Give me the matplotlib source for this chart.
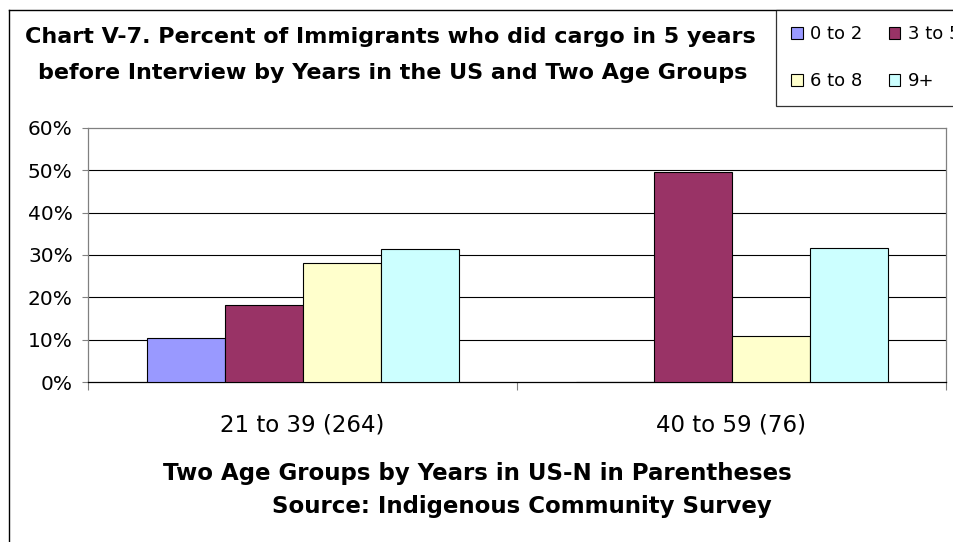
import matplotlib
matplotlib.use("Agg")
import matplotlib.pyplot as plt
from matplotlib.lines import Line2D
from matplotlib.ticker import PercentFormatter, FixedLocator
import matplotlib.transforms as mtransforms
import numpy as np

categories = ["21 to 39 (264)", "40 to 59 (76)"]
series_names = ["0 to 2", "3 to 5", "6 to 8", "9+"]
s_0_2 = [0.105, 0.0]
s_3_5 = [0.181, 0.497]
s_6_8 = [0.282, 0.109]
s_9p = [0.313, 0.316]
series_values = [s_0_2, s_3_5, s_6_8, s_9p]
colors = ["#9999FF", "#993366", "#FFFFCC", "#CCFFFF"]

title1 = "Chart V-7. Percent of Immigrants who did cargo in 5 years"
title2 = "before Interview by Years in the US and Two Age Groups"
xlabel1 = "Two Age Groups by Years in US-N in Parentheses"
xlabel2 = "Source: Indigenous Community Survey"

plt.rcParams['font.family'] = ['DejaVu Sans']

W, H = 954, 542
fig = plt.figure(figsize=(W / 100, H / 100), dpi=100)
fig.patch.set_facecolor("white")

left, right, bottom, top = 88, 946, 382, 128
ax = fig.add_axes([left / W, 1 - bottom / H, (right - left) / W, (bottom - top) / H])

n = len(series_names)
bw = 1 / (n + 1.5)
x = np.arange(len(categories))
for i, (name, vals, c) in enumerate(zip(series_names, series_values, colors)):
    ax.bar(x + (i - (n - 1) / 2) * bw, vals, width=bw, color=c, edgecolor="black",
           linewidth=0.8, label=name, zorder=3)

ax.set_xlim(-0.5, len(categories) - 0.5)
ax.set_ylim(0, 0.6)
ax.yaxis.set_major_locator(FixedLocator(np.arange(0, 0.61, 0.1)))
ax.yaxis.set_major_formatter(PercentFormatter(1.0, decimals=0))
ax.tick_params(axis="y", labelsize=14.5, length=4.5, width=0.8, color="#808080", pad=6.5)

ax.set_xticks(np.arange(-0.5, len(categories), 1.0))
ax.set_xticklabels([])
ax.tick_params(axis="x", which="major", length=6, width=0.8, color="#808080")

cat_tr = mtransforms.blended_transform_factory(ax.transData, fig.transFigure)
for xi, lab in zip(x, categories):
    ax.text(xi, 1 - 432 / H, lab, transform=cat_tr, ha="center", va="baseline",
            fontsize=16.5)

for yv in np.arange(0.1, 0.51, 0.1):
    ax.axhline(yv, color="black", linewidth=0.8, zorder=1)

for s in ["top", "right", "left"]:
    ax.spines[s].set_color("#808080")
    ax.spines[s].set_linewidth(0.9)
ax.spines["bottom"].set_color("black")
ax.spines["bottom"].set_linewidth(0.9)

fig.text(390.5 / W, 1 - 43 / H, title1, ha="center", va="baseline", fontsize=16, fontweight="bold")
fig.text(392.5 / W, 1 - 79 / H, title2, ha="center", va="baseline", fontsize=16, fontweight="bold")
fig.text(477 / W, 1 - 480 / H, xlabel1, ha="center", va="baseline", fontsize=16.5, fontweight="bold")
fig.text(521.5 / W, 1 - 513 / H, xlabel2, ha="center", va="baseline", fontsize=16.5, fontweight="bold")

handles, labels = ax.get_legend_handles_labels()
order = [0, 2, 1, 3]
leg = fig.legend([handles[k] for k in order], [labels[k] for k in order], ncol=2,
                 loc="upper left", bbox_to_anchor=(776 / W, 1 - 10 / H), fontsize=13,
                 frameon=True, fancybox=False, handlelength=0.62, handleheight=0.62,
                 handletextpad=0.4, columnspacing=1.5, labelspacing=1.6,
                 borderpad=0.85, borderaxespad=0)
leg.get_frame().set_edgecolor("black")
leg.get_frame().set_linewidth(0.9)

fig.add_artist(Line2D([9 / W, 9 / W], [0, 1 - 10 / H], transform=fig.transFigure,
                      color="black", linewidth=1.0))
fig.add_artist(Line2D([9 / W, 1], [1 - 10 / H, 1 - 10 / H], transform=fig.transFigure,
                      color="black", linewidth=1.0))

fig.savefig("out.png", dpi=100)
